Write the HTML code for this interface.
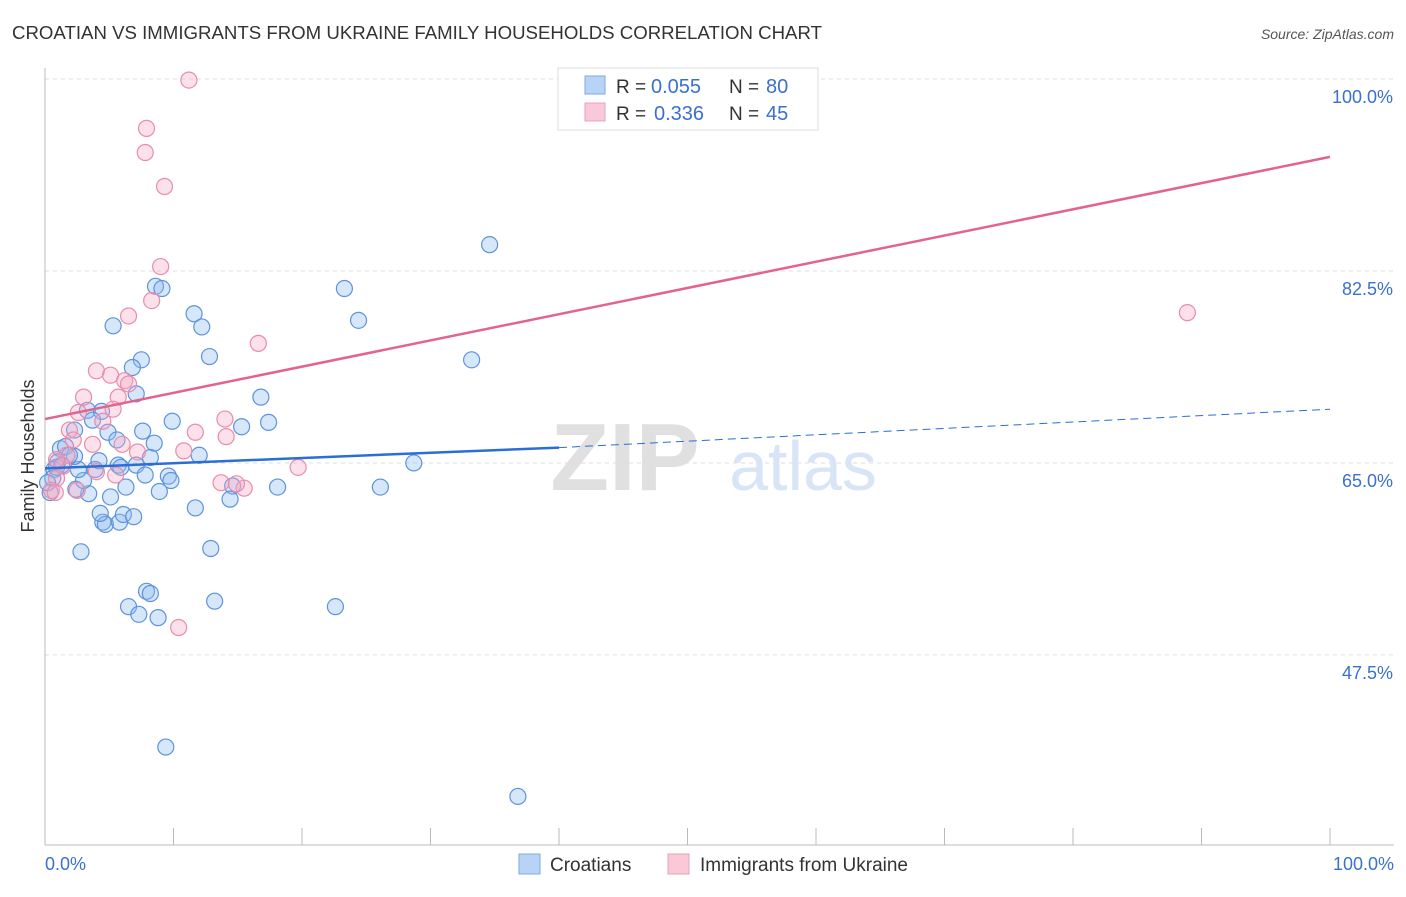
<!DOCTYPE html>
<html><head><meta charset="utf-8"><style>
body{margin:0;background:#fff;font-family:"Liberation Sans",sans-serif;}
svg text{font-family:"Liberation Sans",sans-serif;}
</style></head><body>
<svg id="chart" width="1406" height="892">
<text x="12" y="39" font-size="18.5" fill="#333" textLength="810" lengthAdjust="spacingAndGlyphs">CROATIAN VS IMMIGRANTS FROM UKRAINE FAMILY HOUSEHOLDS CORRELATION CHART</text>
<text x="1394" y="39" font-size="14" fill="#555" font-style="italic" text-anchor="end">Source: ZipAtlas.com</text>
<g id="grid"></g>
<g id="watermark">
<text x="625" y="490" font-size="96" fill="#e0e0e0" font-family="Liberation Serif" text-anchor="middle" font-weight="bold">ZIP</text>
<text x="803" y="490" font-size="70" fill="#d8e5f6" text-anchor="middle">atlas</text>
</g>
<g id="axes"></g>
<g id="marks"></g>
<text transform="translate(34,456) rotate(-90)" font-size="18" fill="#333" text-anchor="middle">Family Households</text>
<g>
<rect x="558" y="68" width="260" height="62" fill="#fff" stroke="#ddd"/>
<rect x="585" y="76" width="20" height="18" fill="#b7d3f6" stroke="#7fa9e0"/>
<rect x="585" y="103" width="20" height="18" fill="#f9c9d7" stroke="#eca0b8"/>
<text x="616" y="93" font-size="19" fill="#333">R = <tspan x="651" font-size="20" fill="#3a70d0">0.055</tspan><tspan x="729">N = </tspan><tspan x="766" font-size="20" fill="#3a70d0">80</tspan></text>
<text x="616" y="120" font-size="19" fill="#333">R = <tspan x="654" font-size="20" fill="#3a70d0">0.336</tspan><tspan x="729">N = </tspan><tspan x="766" font-size="20" fill="#3a70d0">45</tspan></text>
</g>
<g>
<rect x="519" y="854" width="21" height="20" fill="#b7d3f6" stroke="#7fa9e0"/>
<text x="550" y="871" font-size="19" fill="#333">Croatians</text>
<rect x="668" y="854" width="21" height="20" fill="#f9c9d7" stroke="#eca0b8"/>
<text x="700" y="871" font-size="19" fill="#333">Immigrants from Ukraine</text>
</g>
</svg>
<script>
const yTicks=[100,82.5,65,47.5];
const yTickLabels=["100.0%","82.5%","65.0%","47.5%"];
const xTickLabels=["0.0%","100.0%"];
const blueX=[34.6,23.3,24.4,33.2,28.7,26.1,22.6,36.8,9.4,8.6,9.1,11.6,12.2,5.3,12.8,7.5,6.8,7.1,16.8,17.4,15.3,9.9,7.6,8.5,8.2,12.0,7.1,5.7,7.8,9.6,9.8,6.3,8.9,14.6,14.4,18.1,11.7,12.9,13.2,7.9,8.2,6.5,7.3,8.8,2.8,4.5,4.7,5.8,6.1,6.9,4.3,5.1,3.4,2.4,3.0,3.9,2.6,4.2,2.3,1.2,1.6,1.0,0.7,0.6,0.4,0.2,2.3,3.3,4.4,3.7,4.9,5.6,5.9,1.3,1.9,0.9];
const blueY=[84.9,80.9,78.0,74.4,65.0,62.8,51.9,34.6,39.1,81.1,80.9,78.6,77.4,77.5,74.7,74.4,73.7,71.3,71.0,68.7,68.3,68.8,67.9,66.8,65.5,65.7,64.8,64.8,63.9,63.8,63.4,62.8,62.4,62.9,61.7,62.8,60.9,57.2,52.4,53.3,53.1,51.9,51.2,50.9,56.9,59.6,59.4,59.6,60.3,60.1,60.4,61.9,62.2,62.6,63.4,64.4,64.4,65.2,65.6,66.3,66.5,65.1,64.4,63.6,62.3,63.2,68.0,69.8,69.7,68.9,67.8,67.1,64.6,64.8,65.7,64.6];
const pinkX=[11.2,7.9,7.8,9.3,9.0,8.3,6.5,16.6,88.9,4.0,5.1,6.2,6.5,5.7,3.0,5.3,2.6,14.0,11.7,14.1,4.5,1.9,2.2,3.7,6.0,7.2,10.8,19.7,13.7,15.5,14.9,5.5,4.0,1.7,1.4,0.9,0.5,0.8,2.5,10.4,0.9];
const pinkY=[99.9,95.5,93.3,90.2,82.9,79.8,78.4,75.9,78.7,73.4,73.0,72.5,72.2,71.0,71.0,69.9,69.6,69.0,67.8,67.4,68.8,68.0,67.1,66.7,66.7,66.0,66.1,64.6,63.2,62.7,63.1,63.9,64.2,65.7,64.7,63.6,62.5,62.3,62.5,50.0,65.3];
const blueTrend=[64.5,66.4,69.9]; // at x=0, 40, 100
const pinkTrend=[69.0,92.9]; // at x=0, 100
const NS="http://www.w3.org/2000/svg";
const sx=v=>45+v*12.85, sy=v=>79+(100-v)*10.97;
function mk(tag,attrs,parent){const e=document.createElementNS(NS,tag);for(const k in attrs)e.setAttribute(k,attrs[k]);parent.appendChild(e);return e;}
const grid=document.getElementById('grid'),axes=document.getElementById('axes'),marks=document.getElementById('marks');
yTicks.forEach((t,i)=>{
 const l=mk('line',{x1:45,x2:1394,y1:sy(t),y2:sy(t),stroke:'#ddd','stroke-dasharray':'4,4'},grid);
 
 
 const tx=mk('text',{x:1393,y:sy(t)+24,'font-size':18,fill:'#3a70d0','text-anchor':'end'},axes);
 tx.textContent=yTickLabels[i];
 
 
});
mk('line',{x1:45,x2:45,y1:68,y2:845,stroke:'#bbb'},axes);
mk('line',{x1:45,x2:1394,y1:845,y2:845,stroke:'#bbb'},axes);
for(let i=1;i<=10;i++){const x=45+i*128.5;mk('line',{x1:x,x2:x,y1:828,y2:845,stroke:'#bbb'},axes);}
[[45,'start',0],[1394,'end',1]].forEach(([x,a,i])=>{const t=mk('text',{x:x,y:870,'font-size':18,fill:'#3a70d0','text-anchor':a},axes);t.textContent=xTickLabels[i];
 
 });
blueX.forEach((v,i)=>{const c=mk('circle',{cx:sx(v),cy:sy(blueY[i]),r:8,fill:'rgba(140,185,240,0.35)',stroke:'#5d93dc','stroke-width':1.2},marks);
 
 });
pinkX.forEach((v,i)=>{const c=mk('circle',{cx:sx(v),cy:sy(pinkY[i]),r:8,fill:'rgba(245,170,195,0.35)',stroke:'#e98cab','stroke-width':1.2},marks);
 
 });
let l1=mk('line',{x1:sx(0),y1:sy(blueTrend[0]),x2:sx(40),y2:sy(blueTrend[1]),stroke:'#2a6ed6','stroke-width':2.5},marks);


let l2=mk('line',{x1:sx(40),y1:sy(blueTrend[1]),x2:sx(100),y2:sy(blueTrend[2]),stroke:'#2a6ed6','stroke-width':1,'stroke-dasharray':'8,5'},marks);


let l3=mk('line',{x1:sx(0),y1:sy(pinkTrend[0]),x2:sx(100),y2:sy(pinkTrend[1]),stroke:'#e4628e','stroke-width':2.5},marks);


</script>
</body></html>
